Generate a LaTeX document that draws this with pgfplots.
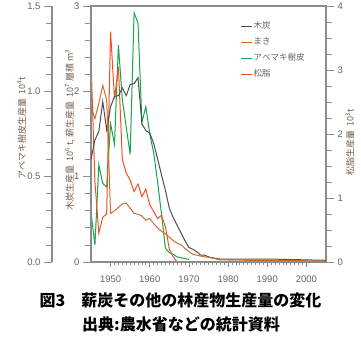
\documentclass[border=0pt]{standalone}
\usepackage{fontspec}
\setmainfont{Liberation Sans}
\newfontfamily\cjk{Noto Sans CJK JP}
\usepackage{pgfplots}
\pgfplotsset{compat=1.18}
\definecolor{cblack}{RGB}{77,77,77}
\definecolor{cbrown}{RGB}{200,110,50}
\definecolor{cgreen}{RGB}{20,165,75}
\definecolor{cred}{RGB}{240,80,35}
\definecolor{axgray}{RGB}{140,140,140}
\definecolor{lblgray}{RGB}{100,100,100}
\definecolor{lblbrown}{RGB}{120,95,75}
\pgfplotsset{base/.style={scale only axis, width=235pt, height=256pt,
  xmin=1945, xmax=2005, at={(91pt,84pt)}, anchor=south west,
  axis line style={axgray, line width=1.1pt},
  every tick/.append style={axgray, line width=0.8pt},
  tick label style={font=\fontsize{9.5}{11}\selectfont, text=lblgray},
  /pgf/number format/assume math mode=true, tick align=outside}}
\pgfplotstableread{
year v
1945 1.20
1946 1.43
1947 1.53
1948 1.88
1949 1.55
1950 1.82
1951 1.94
1952 1.95
1953 2.04
1954 1.95
1955 2.08
1956 2.09
1957 2.16
1958 1.62
1959 1.54
1960 1.51
1961 1.39
1962 1.21
1963 1.02
1964 0.84
1965 0.63
1966 0.52
1967 0.43
1968 0.34
1969 0.25
1970 0.17
1971 0.15
1972 0.12
1973 0.08
1974 0.08
1975 0.06
1976 0.05
1977 0.04
1978 0.035
1980 0.035
1985 0.035
1990 0.035
1995 0.03
2000 0.025
2005 0.02
}\charcoal
\pgfplotstableread{
year v
1945 1.82
1946 1.68
1947 1.86
1948 2.07
1949 1.90
1950 0.57
1951 0.60
1952 0.64
1953 0.68
1954 0.69
1955 0.63
1956 0.57
1957 0.56
1958 0.54
1959 0.49
1960 0.51
1961 0.45
1962 0.40
1963 0.36
1964 0.33
1965 0.29
1966 0.25
1967 0.22
1968 0.20
1969 0.16
1970 0.12
1971 0.09
1972 0.08
1973 0.07
1974 0.06
1975 0.055
1976 0.045
1977 0.035
1978 0.025
1985 0.02
1990 0.02
1995 0.02
2000 0.015
2005 0.01
}\firewood
\pgfplotstableread{
year v
1945 0.29
1946 0.10
1947 0.57
1948 0.46
1949 0.44
1950 0.81
1951 0.69
1952 1.27
1953 0.95
1954 0.79
1955 0.63
1956 1.46
1957 1.40
1958 0.82
1959 0.91
1960 0.75
1961 0.64
1962 0.47
1963 0.28
1964 0.08
1965 0.055
1966 0.045
1967 0.03
1968 0.025
1969 0.02
1970 0.015
}\bark
\pgfplotstableread{
year v
1945 3.16
1946 1.25
1947 0.45
1948 0.70
1949 0.75
1950 3.60
1951 2.55
1952 3.05
1953 1.60
1954 1.39
1955 1.28
1956 1.10
1957 1.22
1958 1.02
1959 1.14
1960 0.89
1961 0.79
1962 0.68
1963 0.73
1964 0.55
1965 0.20
1966 0.08
1967 0.00
}\resin
\begin{document}
\begin{tikzpicture}
\useasboundingbox (0pt,0pt) rectangle (361pt,346pt);
% outer left axis (bark)
\begin{axis}[scale only axis, width=20pt, height=256pt, at={(52pt,84pt)}, anchor=south west,
  xmin=0, xmax=1, ymin=0, ymax=1.5, hide x axis, axis y line*=left,
  axis line style={axgray, line width=1.1pt},
  every tick/.append style={axgray, line width=0.8pt},
  tick label style={font=\fontsize{9.5}{11}\selectfont, text=lblgray},
  /pgf/number format/assume math mode=true, tick align=outside,
  ytick={0,0.5,1,1.5}, minor y tick num=4, major tick length=8pt, minor tick length=6pt,
  yticklabel style={/pgf/number format/.cd, fixed, fixed zerofill, precision=1}]
\end{axis}
% green series
\begin{axis}[base, ymin=0, ymax=1.5, hide axis]
\addplot[cgreen, line width=1pt] table[x=year, y=v] {\bark};
\end{axis}
% red series, right axis
\begin{axis}[base, ymin=0, ymax=4, hide x axis, axis y line*=right,
  ytick={0,1,2,3,4}, minor y tick num=3, major tick length=8pt, minor tick length=6pt]
\addplot[cred, line width=1pt] table[x=year, y=v] {\resin};
\end{axis}
% main left y axis
\begin{axis}[base, ymin=0, ymax=3, hide x axis, axis y line*=left,
  ytick={0,1,2,3}, minor y tick num=4, major tick length=8pt, minor tick length=6pt]
\end{axis}
% main axis: charcoal and firewood, box, x ticks, legend
\begin{axis}[base, ymin=0, ymax=3, ytick=\empty, xtick={1950,1960,...,2000},
  minor x tick num=9, xtick pos=bottom, major tick length=5pt, minor tick length=3pt,
  xticklabel style={yshift=-5pt, /pgf/number format/1000 sep={}},
  legend style={draw=none, fill=none, at={(0.634,0.945)}, anchor=north west,
    font=\cjk\fontsize{8.5}{10}\selectfont, text=lblgray, row sep=4.5pt, inner sep=0pt,
    nodes={inner sep=1.5pt}},
  legend cell align=left,
  legend image code/.code={\draw[#1] (0pt,0pt) -- (11pt,0pt);}]
\addplot[cblack, line width=1pt] table[x=year, y=v] {\charcoal};
\addlegendentry{木炭}
\addplot[cbrown, line width=1pt] table[x=year, y=v] {\firewood};
\addlegendentry{まき}
\addlegendimage{cgreen, line width=1pt}
\addlegendentry{アベマキ樹皮}
\addlegendimage{cred, line width=1pt}
\addlegendentry{松脂}
\end{axis}
% axis labels
\node[rotate=90, text=lblbrown, font=\cjk\fontsize{9}{10}\selectfont] at (21.7pt,218pt)
  {アベマキ樹皮生産量\ \ 10\textsuperscript{4}t};
\node[rotate=90, text=lblbrown, font=\cjk\fontsize{9}{10}\selectfont] at (70pt,216pt)
  {木炭生産量\ \ 10\textsuperscript{6} t,\ 薪生産量\ \ 10\textsuperscript{7} 層積 m\textsuperscript{3}};
\node[rotate=90, text=lblbrown, font=\cjk\fontsize{9}{10}\selectfont] at (350pt,204pt)
  {松脂生産量\ \ 10\textsuperscript{3}t};
% caption
\node[font=\cjk\bfseries\fontsize{16}{18}\selectfont] at (180.5pt,46pt) {図3　薪炭その他の林産物生産量の変化};
\node[font=\cjk\bfseries\fontsize{16}{18}\selectfont] at (181pt,22pt) {出典:農水省などの統計資料};
\end{tikzpicture}
\end{document}
